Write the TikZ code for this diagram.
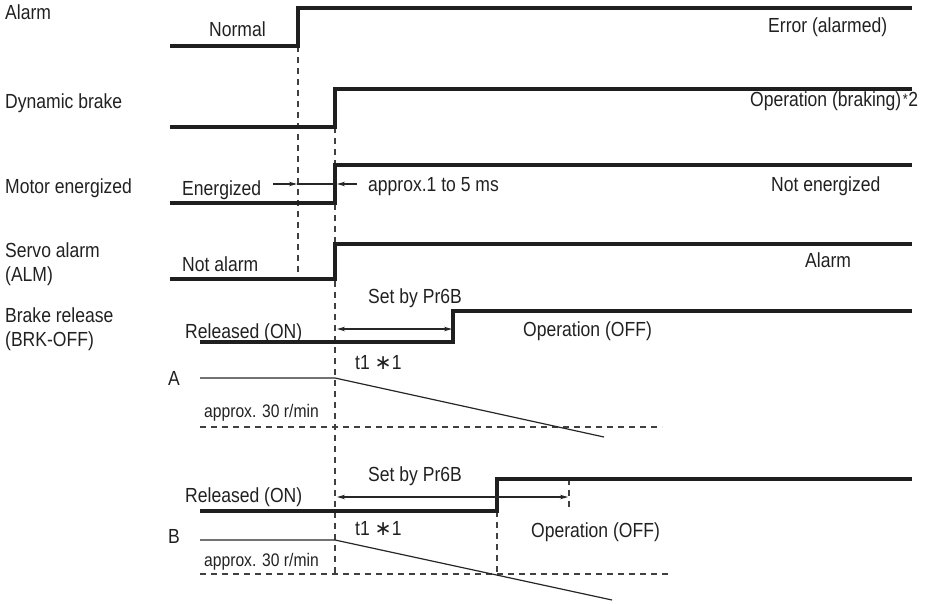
\documentclass[tikz,border=0pt]{standalone}
\usepackage{fontspec}
\setmainfont[FakeStretch=0.86]{Liberation Sans}
\newfontfamily\symfont{DejaVu Sans}
\usetikzlibrary{arrows.meta}
\begin{document}
\begin{tikzpicture}[x=1pt,y=-1pt,
  sig/.style={line width=3.8pt, draw=black!88, line join=miter},
  thinline/.style={line width=1.2pt, draw=black!85},
  guide/.style={line width=1.2pt, draw=black!75, dash pattern=on 6pt off 5pt},
  arr/.style={thinline, -{Stealth[length=8pt,width=4.5pt]}},
  dblarr/.style={thinline, {Stealth[length=8pt,width=4.5pt]}-{Stealth[length=8pt,width=4.5pt]}},
  txt/.style={anchor=base west, inner sep=0pt, text=black!87, font=\fontsize{20.4}{24}\selectfont},
  smalltxt/.style={txt, font=\fontsize{18.2}{22}\selectfont}]

\useasboundingbox (0,0) rectangle (939,603);

% guides
\draw[guide] (298,46) -- (298,273);
\draw[guide] (335,127) -- (335,574);
\draw[guide] (569,479) -- (569,510);
\draw[guide] (497,511) -- (497,574);
\draw[guide] (200,427) -- (662,427);
\draw[guide] (200,574) -- (670,574);

% signals
\draw[sig] (170,46) -- (298,46) -- (298,8) -- (912,8);
\draw[sig] (170,127) -- (335,127) -- (335,89) -- (912,89);
\draw[sig] (170,203) -- (335,203) -- (335,165) -- (912,165);
\draw[sig] (170,279) -- (335,279) -- (335,244) -- (912,244);
\draw[sig] (200,342) -- (453,342) -- (453,311) -- (912,311);
\draw[sig] (200,511) -- (497,511) -- (497,479) -- (912,479);

% speed lines
\draw[thinline] (200,378) -- (335,378) -- (604,437);
\draw[thinline] (200,540) -- (335,540) -- (612,600);

% arrows
\coordinate (e0) at (273,184);
\coordinate (e1) at (297,184);
\coordinate (e2) at (335,184);
\coordinate (e3) at (357,184);
\coordinate (e4) at (337,184);
\draw[arr] (e0) -- (e1);
\draw[thinline] (e1) -- (e2);
\draw[arr] (e3) -- (e4);
\coordinate (ta0) at (337,329);
\coordinate (ta1) at (452,329);
\draw[dblarr] (ta0) -- (ta1);
\coordinate (tb0) at (337,497);
\coordinate (tb1) at (568,497);
\draw[dblarr] (tb0) -- (tb1);

% left labels
\node[txt] (lAlarm) at (5,19) {Alarm};
\node[txt] (lDyn) at (5,108) {Dynamic brake};
\node[txt] (lMot) at (5,193) {Motor energized};
\node[txt] (lServo) at (5,257) {Servo alarm};
\node[txt] (lAlm) at (5,281) {(ALM)};
\node[txt] (lBrk) at (5,322) {Brake release};
\node[txt] (lBrkOff) at (5,346) {(BRK-OFF)};

% state labels
\node[txt] (tNormal) at (209,36) {Normal};
\node[txt] (tErr) at (768,32) {Error (alarmed)};
\node[txt] (tBrak) at (750,106) {Operation (braking)\kern1.5pt\raisebox{2pt}{\fontsize{15}{15}\selectfont *}\kern0.5pt 2};
\node[txt] (tEner) at (182,195) {Energized};
\node[txt] (tApprox) at (368,191) {approx.1 to 5 ms};
\node[txt] (tNotEn) at (771,191) {Not energized};
\node[txt] (tNotAl) at (182,271) {Not alarm};
\node[txt] (tAlarm) at (805,267) {Alarm};

\node[txt] (tRelA) at (185,338) {Released (ON)};
\node[txt] (tSetA) at (368,303) {Set by Pr6B};
\node[txt] (tT1A) at (355,369) {t1 {\symfont ∗}1};
\node[txt] (tOpA) at (523,336) {Operation (OFF)};
\node[txt] (tA) at (168,385) {A};
\node[smalltxt] (tSpA) at (204,417) {approx. 30 r/min};

\node[txt] (tSetB) at (368,481) {Set by Pr6B};
\node[txt] (tRelB) at (185,502) {Released (ON)};
\node[txt] (tT1B) at (355,535) {t1 {\symfont ∗}1};
\node[txt] (tOpB) at (531,537) {Operation (OFF)};
\node[txt] (tB) at (168,543) {B};
\node[smalltxt] (tSpB) at (204,566) {approx. 30 r/min};
\end{tikzpicture}
\end{document}
